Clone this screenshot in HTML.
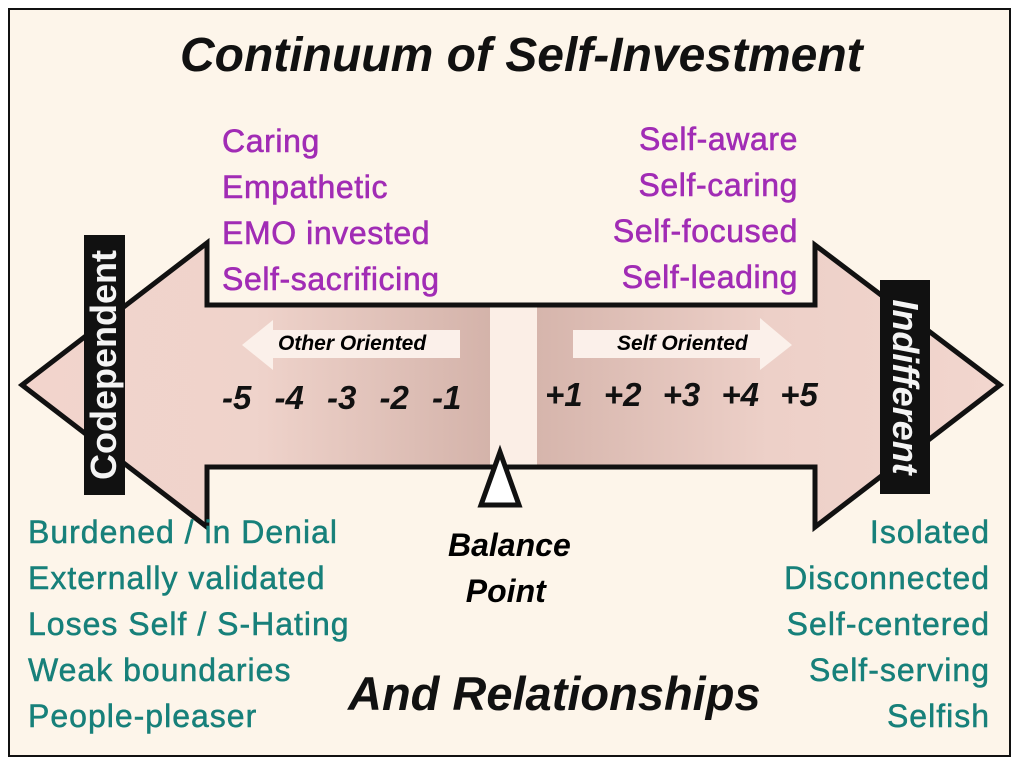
<!DOCTYPE html>
<html><head><meta charset="utf-8"><style>
body{margin:0;background:#fff;}
.c{position:relative;width:1020px;height:766px;overflow:hidden;font-family:"Liberation Sans",sans-serif;}
.t{position:absolute;white-space:nowrap;}
.p{color:#a12cb5;font-size:32px;letter-spacing:0.6px;-webkit-text-stroke:0.6px #a12cb5;}
.g{color:#17807a;font-size:32px;letter-spacing:1px;-webkit-text-stroke:0.5px #17807a;}
.n{font-size:33px;font-weight:bold;font-style:italic;color:#111;}
</style></head><body><div class="c">
<svg width="1020" height="766" style="position:absolute;left:0;top:0">
<defs>
<linearGradient id="gl" x1="0" x2="1"><stop offset="0" stop-color="#f2d4cc"/><stop offset="0.5" stop-color="#efd3cb"/><stop offset="1" stop-color="#d4b3aa"/></linearGradient>
<linearGradient id="gr" x1="0" x2="1"><stop offset="0" stop-color="#d6b5ac"/><stop offset="0.5" stop-color="#edd0c8"/><stop offset="1" stop-color="#f2d6ce"/></linearGradient>
</defs>
<rect x="9" y="9" width="1001" height="747" fill="#fdf5ea" stroke="#111" stroke-width="2"/>
<polygon points="22,385 207,243 207,305 490,305 490,467 207,467 207,527" fill="url(#gl)"/>
<polygon points="537,305 815,305 815,245 1000,385 815,527 815,467 537,467" fill="url(#gr)"/>
<polyline points="490,305 207,305 207,243 22,385 207,527 207,467 490,467" fill="none" stroke="#111" stroke-width="5" stroke-linejoin="miter"/>
<polyline points="490,305 815,305 815,245 1000,385 815,527 815,467 490,467" fill="none" stroke="#111" stroke-width="5"/>
<rect x="490" y="308" width="47" height="156" fill="#fbeee6"/>
<polygon points="242,345 273,320 273,330 460,330 460,358 273,358 273,370" fill="#fbf0ea"/>
<polygon points="573,330 760,330 760,318 792,345 760,370 760,358 573,358" fill="#fbf0ea"/>
<rect x="84" y="235" width="41" height="260" fill="#111"/>
<rect x="880" y="280" width="50" height="214" fill="#111"/>
<polygon points="500,452 481,505 519,505" fill="#fff" stroke="#111" stroke-width="5"/>
</svg>
<div class="t" style="left:180px;top:28px;font-size:48px;font-weight:bold;font-style:italic;color:#111">Continuum of Self-Investment</div>
<div class="t p" style="left:222px;top:118px;line-height:46px">Caring<br>Empathetic<br>EMO invested<br>Self-sacrificing</div>
<div class="t p" style="right:222px;top:116px;line-height:46px;text-align:right">Self-aware<br>Self-caring<br>Self-focused<br>Self-leading</div>
<div class="t" style="left:278px;top:332px;font-size:21px;font-weight:bold;font-style:italic">Other Oriented</div>
<div class="t" style="left:617px;top:332px;font-size:21px;font-weight:bold;font-style:italic">Self Oriented</div>
<div class="t n" style="left:222px;top:379px;word-spacing:14px">-5 -4 -3 -2 -1</div>
<div class="t n" style="left:545px;top:376px;word-spacing:12px">+1 +2 +3 +4 +5</div>
<div class="t" style="left:104px;top:365px;transform:translate(-50%,-50%) rotate(-90deg);color:#f4f4f4;font-size:36px;font-weight:bold">Codependent</div>
<div class="t" style="left:905px;top:387px;transform:translate(-50%,-50%) rotate(90deg);color:#f4f4f4;font-size:36px;font-weight:bold;font-style:italic">Indifferent</div>
<div class="t" style="left:448px;top:522px;font-size:32px;font-weight:bold;font-style:italic;line-height:46px">Balance<br>&nbsp;&nbsp;Point</div>
<div class="t" style="left:348px;top:666px;font-size:47px;font-weight:bold;font-style:italic;color:#111">And Relationships</div>
<div class="t g" style="left:28px;top:509px;line-height:46px">Burdened / in Denial<br>Externally validated<br>Loses Self / S-Hating<br>Weak boundaries<br>People-pleaser</div>
<div class="t g" style="right:30px;top:509px;line-height:46px;text-align:right">Isolated<br>Disconnected<br>Self-centered<br>Self-serving<br>Selfish</div>
</div></body></html>
